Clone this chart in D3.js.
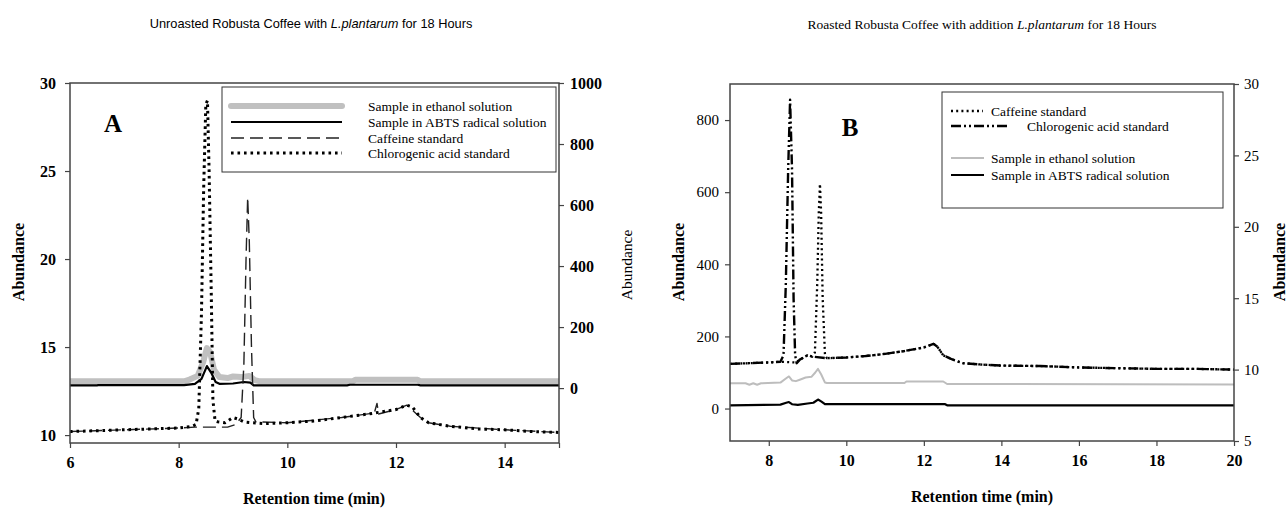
<!DOCTYPE html>
<html><head><meta charset="utf-8">
<script src="https://cdn.jsdelivr.net/npm/d3@7"></script>
<style>body{margin:0;background:#fff}svg{display:block;background:#fff}</style>
</head><body><svg id="c" width="1287" height="509"></svg>
<script>
// ---------- Panel A data ----------
const aXTicks = [6, 8, 10, 12, 14, 15];
const aXLabels = ["6", "8", "10", "12", "14", ""];
const aLeftTicks = [10, 15, 20, 25, 30];
const aRightTicks = [0, 200, 400, 600, 800, 1000];

// sample traces (right axis, 0-1000)
const aEthanolT = [6.0, 8.1, 8.2, 8.35, 8.45, 8.52, 8.58, 8.65, 8.75, 8.9, 9.0, 9.15, 9.3, 9.4, 9.5, 11.2, 11.25, 12.4, 12.45, 15.0];
const aEthanolV = [22, 22, 28, 40, 85, 131, 118, 60, 36, 33, 38, 36, 40, 26, 22, 22, 27, 27, 22, 22];
const aAbtsT = [6.0, 6.5, 6.52, 8.1, 8.3, 8.42, 8.52, 8.6, 8.68, 8.75, 9.0, 9.2, 9.32, 9.38, 9.5, 11.1, 11.15, 12.4, 12.45, 15.0];
const aAbtsV = [9, 9, 10, 10, 14, 30, 72, 50, 20, 14, 15, 20, 18, 9, 9, 9, 11, 11, 9, 9];

// standards (left axis, 10-30)
const aChloroT = [6.0, 6.5, 7.0, 7.5, 8.0, 8.25, 8.32, 8.37, 8.42, 8.46, 8.5, 8.53, 8.56, 8.6, 8.63, 8.67, 8.72, 8.85, 9.0, 9.1, 9.2, 9.35, 9.6, 10.0, 10.5, 11.0, 11.5, 12.0, 12.2, 12.3, 12.45, 12.6, 13.0, 13.5, 14.0, 14.5, 15.0];
const aChloroV = [10.2, 10.25, 10.3, 10.35, 10.4, 10.5, 10.6, 11.5, 17, 24, 28.8, 29.0, 25, 18, 12, 10.8, 10.75, 10.7, 11.0, 10.9, 10.75, 10.7, 10.65, 10.7, 10.8, 11.0, 11.2, 11.45, 11.7, 11.6, 11.0, 10.7, 10.5, 10.35, 10.3, 10.2, 10.15];
const aCaffT = [6.0, 7.0, 8.0, 8.3, 8.9, 9.05, 9.15, 9.2, 9.24, 9.27, 9.3, 9.34, 9.38, 9.42, 10.0, 11.0, 11.6, 11.65, 11.68, 12.0, 12.2, 12.45, 12.6, 13.0, 14.0, 15.0];
const aCaffV = [10.2, 10.3, 10.4, 10.45, 10.45, 10.6, 11, 14, 20, 23.5, 21, 15, 11, 10.75, 10.7, 11.0, 11.25, 11.8, 11.2, 11.45, 11.7, 11.0, 10.7, 10.5, 10.3, 10.15];

// ---------- Panel B data ----------
const bXTicks = [8, 10, 12, 14, 16, 18, 20];
const bLeftTicks = [0, 200, 400, 600, 800];
const bRightTicks = [5, 10, 15, 20, 25, 30];

// sample traces (left axis)
const bEthanolT = [7.0, 7.4, 7.5, 7.6, 7.7, 7.8, 8.3, 8.45, 8.52, 8.6, 8.7, 8.8, 8.95, 9.1, 9.2, 9.27, 9.35, 9.45, 9.5, 11.5, 11.55, 12.5, 12.6, 20.0];
const bEthanolV = [70, 70, 66, 70, 66, 70, 72, 84, 89, 78, 76, 80, 86, 88, 100, 110, 95, 72, 71, 71, 75, 75, 68, 67];
const bAbtsT = [7.0, 8.3, 8.45, 8.52, 8.6, 8.75, 9.0, 9.15, 9.27, 9.35, 9.45, 12.55, 12.6, 20.0];
const bAbtsV = [9, 11, 16, 18, 12, 10, 14, 16, 25, 20, 12, 12, 9, 9];

// standards (right axis)
const bCaffT = [7.0, 7.5, 8.0, 8.3, 8.7, 8.8, 9.0, 9.12, 9.19, 9.25, 9.29, 9.32, 9.35, 9.39, 9.45, 9.5, 10.0, 10.5, 11.0, 11.5, 12.0, 12.25, 12.35, 12.5, 12.7, 13.0, 13.5, 14.0, 15.0, 16.0, 17.0, 18.0, 19.0, 20.0];
const bCaffV = [10.4, 10.45, 10.5, 10.55, 10.5, 10.7, 11.0, 10.9, 11.2, 16, 21, 23, 21, 15, 11, 10.8, 10.85, 10.95, 11.1, 11.3, 11.55, 11.8, 11.6, 11.0, 10.75, 10.45, 10.35, 10.28, 10.25, 10.15, 10.1, 10.05, 10.05, 10.0];
const bChloroT = [7.0, 7.5, 8.0, 8.3, 8.38, 8.44, 8.5, 8.55, 8.6, 8.64, 8.68, 8.72, 8.8, 9.0, 9.15, 9.5, 10.0, 10.5, 11.0, 11.5, 12.0, 12.25, 12.35, 12.5, 12.7, 13.0, 13.5, 14.0, 15.0, 16.0, 17.0, 18.0, 19.0, 20.0];
const bChloroV = [10.4, 10.45, 10.5, 10.55, 11, 16, 24, 28.9, 24, 15, 11, 10.45, 10.7, 11.0, 10.9, 10.8, 10.85, 10.95, 11.1, 11.3, 11.55, 11.8, 11.6, 11.0, 10.75, 10.45, 10.35, 10.28, 10.25, 10.15, 10.1, 10.05, 10.05, 10.0];

const pairs = (t, v) => t.map((d, i) => [d, v[i]]);
const SERIF = "Liberation Serif, Times New Roman, serif";
const SANS = "Liberation Sans, Arial, sans-serif";
const AXC = "#444";

const svg = d3.select("#c");

// styles
const st = {
  aEthanol: {stroke: "#c0c0c0", w: 6, dash: null, cap: "round"},
  aAbts: {stroke: "#000", w: 2.2, dash: null, cap: "butt"},
  aCaff: {stroke: "#222", w: 1.4, dash: "13,6", cap: "butt"},
  aChloro: {stroke: "#000", w: 3, dash: "2.6,3.9", cap: "butt"},
  bEthanol: {stroke: "#bdbdbd", w: 2, dash: null, cap: "butt"},
  bAbts: {stroke: "#000", w: 2.2, dash: null, cap: "butt"},
  bCaff: {stroke: "#000", w: 2.3, dash: "2,3.2", cap: "butt"},
  bChloro: {stroke: "#000", w: 2.4, dash: "10,3,2,3,2,3", cap: "butt"}
};

function txt(sel, family, size, weight) {
  return sel.style("font-family", family).style("font-size", size + "px").style("font-weight", weight || "normal");
}
function drawLine(g, data, x, y, s) {
  g.append("path").datum(data)
    .attr("fill", "none").attr("stroke", s.stroke).attr("stroke-width", s.w)
    .attr("stroke-dasharray", s.dash).attr("stroke-linecap", s.cap).attr("stroke-linejoin", "round")
    .attr("d", d3.line().x(d => x(d[0])).y(d => y(d[1])));
}
function styleAxis(g, size, weight) {
  g.select(".domain").remove();
  g.attr("font-family", null).attr("font-size", null);
  g.selectAll(".tick line").attr("stroke", AXC).attr("stroke-width", 1.2);
  txt(g.selectAll("text"), SERIF, size, weight).attr("fill", "#000");
}
function legendRow(g, x1, x2, yy, s, label, tx) {
  g.append("line").attr("x1", x1).attr("x2", x2).attr("y1", yy).attr("y2", yy)
    .attr("stroke", s.stroke).attr("stroke-width", s.w).attr("stroke-dasharray", s.dash).attr("stroke-linecap", s.cap);
  txt(g.append("text").attr("x", tx).attr("y", yy).attr("dy", "0.35em"), SERIF, 13.5).text(label);
}

// ================= Panel A =================
{
  const L = 70, R = 559, T = 83, B = 443;
  const x = d3.scaleLinear().domain([6, 15]).range([L, R]);
  const yL = d3.scaleLinear().domain([9.55, 30]).range([B, T]);
  const yR = d3.scaleLinear().domain([-180, 1000]).range([B, T]);

  svg.append("clipPath").attr("id", "clipA").append("rect").attr("x", L).attr("y", T).attr("width", R - L).attr("height", B - T);
  const g = svg.append("g").attr("clip-path", "url(#clipA)");
  drawLine(g, pairs(aEthanolT, aEthanolV), x, yR, st.aEthanol);
  drawLine(g, pairs(aAbtsT, aAbtsV), x, yR, st.aAbts);
  drawLine(g, pairs(aCaffT, aCaffV), x, yL, st.aCaff);
  drawLine(g, pairs(aChloroT, aChloroV), x, yL, st.aChloro);

  svg.append("rect").attr("x", L).attr("y", T).attr("width", R - L).attr("height", B - T)
    .attr("fill", "none").attr("stroke", AXC).attr("stroke-width", 1.5);

  const ax = svg.append("g").attr("transform", `translate(0,${B})`)
    .call(d3.axisBottom(x).tickValues(aXTicks).tickFormat((d, i) => aXLabels[i]).tickSize(5).tickPadding(9));
  styleAxis(ax, 16, "bold");
  const al = svg.append("g").attr("transform", `translate(${L},0)`)
    .call(d3.axisLeft(yL).tickValues(aLeftTicks).tickFormat(d3.format("d")).tickSize(5).tickPadding(9));
  styleAxis(al, 16, "bold");
  const ar = svg.append("g").attr("transform", `translate(${R},0)`)
    .call(d3.axisRight(yR).tickValues(aRightTicks).tickFormat(d3.format("d")).tickSize(5).tickPadding(6));
  styleAxis(ar, 16, "bold");

  txt(svg.append("text").attr("x", 113).attr("y", 132).attr("text-anchor", "middle"), SERIF, 25, "bold").text("A");

  txt(svg.append("text").attr("x", 311).attr("y", 28).attr("text-anchor", "middle"), SANS, 12.8)
    .call(t => { t.append("tspan").text("Unroasted Robusta Coffee with ");
                 t.append("tspan").style("font-style", "italic").text("L.plantarum");
                 t.append("tspan").text(" for 18 Hours"); });

  txt(svg.append("text").attr("x", 314).attr("y", 504).attr("text-anchor", "middle"), SERIF, 16, "bold").text("Retention time (min)");
  txt(svg.append("text").attr("transform", "translate(24,262) rotate(-90)").attr("text-anchor", "middle"), SERIF, 16, "bold").text("Abundance");
  txt(svg.append("text").attr("transform", "translate(632,265) rotate(-90)").attr("text-anchor", "middle"), SERIF, 15.5).text("Abundance");

  const lg = svg.append("g");
  lg.append("rect").attr("x", 222).attr("y", 87).attr("width", 334).attr("height", 85)
    .attr("fill", "#fff").attr("stroke", "#333").attr("stroke-width", 1);
  legendRow(lg, 231, 342, 106, st.aEthanol, "Sample in ethanol solution", 368);
  legendRow(lg, 231, 342, 122, st.aAbts, "Sample in ABTS radical solution", 368);
  legendRow(lg, 231, 342, 138, st.aCaff, "Caffeine standard", 368);
  legendRow(lg, 231, 342, 153, st.aChloro, "Chlorogenic acid standard", 368);
}

// ================= Panel B =================
{
  const L = 730, R = 1234, T = 84, B = 441;
  const x = d3.scaleLinear().domain([7, 20]).range([L, R]);
  const yL = d3.scaleLinear().domain([-90, 900]).range([B, T]);
  const yR = d3.scaleLinear().domain([5, 30]).range([B, T]);

  svg.append("clipPath").attr("id", "clipB").append("rect").attr("x", L).attr("y", T).attr("width", R - L).attr("height", B - T);
  const g = svg.append("g").attr("clip-path", "url(#clipB)");
  drawLine(g, pairs(bEthanolT, bEthanolV), x, yL, st.bEthanol);
  drawLine(g, pairs(bAbtsT, bAbtsV), x, yL, st.bAbts);
  drawLine(g, pairs(bCaffT, bCaffV), x, yR, st.bCaff);
  drawLine(g, pairs(bChloroT, bChloroV), x, yR, st.bChloro);

  svg.append("rect").attr("x", L).attr("y", T).attr("width", R - L).attr("height", B - T)
    .attr("fill", "none").attr("stroke", AXC).attr("stroke-width", 1.5);

  const ax = svg.append("g").attr("transform", `translate(0,${B})`)
    .call(d3.axisBottom(x).tickValues(bXTicks).tickFormat(d3.format("d")).tickSize(5).tickPadding(9));
  styleAxis(ax, 16, "bold");
  const al = svg.append("g").attr("transform", `translate(${L},0)`)
    .call(d3.axisLeft(yL).tickValues(bLeftTicks).tickFormat(d3.format("d")).tickSize(5).tickPadding(6));
  styleAxis(al, 15, "normal");
  const ar = svg.append("g").attr("transform", `translate(${R},0)`)
    .call(d3.axisRight(yR).tickValues(bRightTicks).tickFormat(d3.format("d")).tickSize(5).tickPadding(5));
  styleAxis(ar, 15, "normal");

  txt(svg.append("text").attr("x", 850).attr("y", 136).attr("text-anchor", "middle"), SERIF, 25, "bold").text("B");

  txt(svg.append("text").attr("x", 982).attr("y", 29).attr("text-anchor", "middle"), SERIF, 13.5)
    .call(t => { t.append("tspan").text("Roasted Robusta Coffee with addition ");
                 t.append("tspan").style("font-style", "italic").text("L.plantarum");
                 t.append("tspan").text(" for 18 Hours"); });

  txt(svg.append("text").attr("x", 982).attr("y", 502).attr("text-anchor", "middle"), SERIF, 16, "bold").text("Retention time (min)");
  txt(svg.append("text").attr("transform", "translate(684,262) rotate(-90)").attr("text-anchor", "middle"), SERIF, 16, "bold").text("Abundance");
  txt(svg.append("text").attr("transform", "translate(1285,262) rotate(-90)").attr("text-anchor", "middle"), SERIF, 16, "bold").text("Abundance");

  const lg = svg.append("g");
  lg.append("rect").attr("x", 942).attr("y", 92).attr("width", 281).attr("height", 116)
    .attr("fill", "#fff").attr("stroke", "#333").attr("stroke-width", 1);
  legendRow(lg, 951, 983, 111, st.bCaff, "Caffeine standard", 991);
  legendRow(lg, 951, 1008, 126, st.bChloro, "Chlorogenic acid standard", 1027);
  legendRow(lg, 951, 984, 158, st.bEthanol, "Sample in ethanol solution", 991);
  legendRow(lg, 951, 984, 175, st.bAbts, "Sample in ABTS radical solution", 991);
}
</script></body></html>
